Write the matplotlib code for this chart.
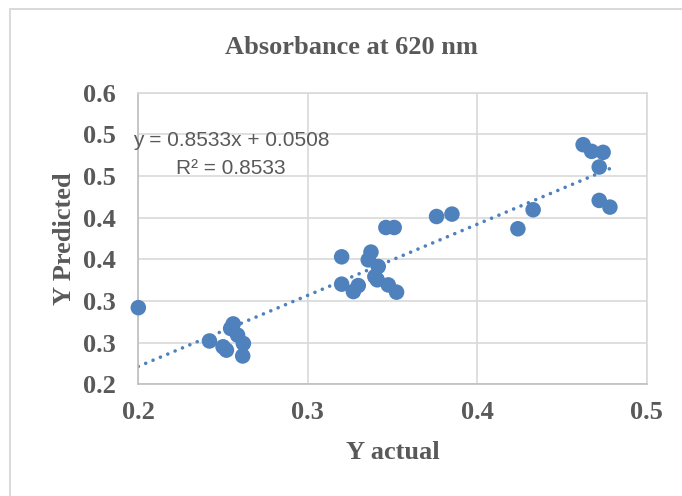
"""Absorbance at 620 nm - predicted vs actual scatter with linear trendline."""

import matplotlib

matplotlib.use("Agg")
import matplotlib.pyplot as plt
from matplotlib.patches import Rectangle

# Values
y_actual = [
    0.200, 0.242, 0.250, 0.252, 0.256, 0.2545, 0.2586, 0.262, 0.2616,
    0.320, 0.3373, 0.3357, 0.3416, 0.3396, 0.341, 0.320, 0.3269, 0.3298,
    0.3475, 0.3524, 0.3461, 0.351, 0.376, 0.3851, 0.424, 0.433,
    0.4625, 0.4675, 0.4743, 0.472, 0.472, 0.4783,
]
y_predicted = [
    0.292, 0.252, 0.245, 0.241, 0.2725, 0.267, 0.259, 0.249, 0.234,
    0.353, 0.3587, 0.3494, 0.3414, 0.3293, 0.3254, 0.3202, 0.3113, 0.3185,
    0.3193, 0.3106, 0.3882, 0.3882, 0.4014, 0.4043, 0.3867, 0.4095,
    0.4876, 0.4796, 0.4784, 0.4608, 0.4207, 0.4127,
]

# Trendline as printed on the chart
slope = 0.8533
intercept = 0.0508
r_squared = 0.8533

x_ticks = [0.2, 0.3, 0.4, 0.5]
x_tick_labels = ["0.2", "0.3", "0.4", "0.5"]
y_ticks = [0.2, 0.25, 0.3, 0.35, 0.4, 0.45, 0.5, 0.55]
# Excel rounds to one decimal, so neighbouring ticks repeat
y_tick_labels = ["0.2", "0.3", "0.3", "0.4", "0.4", "0.5", "0.5", "0.6"]

BLUE = "#4F81BD"
GRID = "#D9D9D9"
AXIS = "#BFBFBF"
TEXT = "#595959"
SERIF = "Liberation Serif"

fig = plt.figure(figsize=(6.82, 4.96), dpi=100)
ax = fig.add_axes([0.2028, 0.2252, 0.7454, 0.5879])

# Light border of the Excel chart area
fig.add_artist(
    Rectangle(
        (10 / 682, -0.1), 1.2, 1.1 - 8.5 / 496,
        transform=fig.transFigure, fill=False, edgecolor=GRID, linewidth=1.4,
    )
)

ax.scatter(
    y_actual, y_predicted, s=125, color=BLUE, edgecolors="none",
    zorder=3, clip_on=False,
)

x_min, x_max = min(y_actual), max(y_actual)
ax.plot(
    [x_min, x_max],
    [slope * x_min + intercept, slope * x_max + intercept],
    color=BLUE, linewidth=2.6, linestyle=(0, (0.01, 2.2)),
    dash_capstyle="round", zorder=2,
)

ax.set_xlim(0.2, 0.5)
ax.set_ylim(0.2, 0.55)
ax.set_xticks(x_ticks)
ax.set_xticklabels(x_tick_labels)
ax.set_yticks(y_ticks)
ax.set_yticklabels(y_tick_labels)
ax.tick_params(axis="x", length=0, pad=12)
ax.tick_params(axis="y", length=0, pad=16)
for label in ax.get_xticklabels() + ax.get_yticklabels():
    label.set_fontfamily(SERIF)
    label.set_fontweight("bold")
    label.set_fontsize(19)
    label.set_color(TEXT)

ax.grid(True, color=GRID, linewidth=1.2)
ax.set_axisbelow(True)
for name, spine in ax.spines.items():
    spine.set_color(AXIS if name in ("left", "bottom") else GRID)
    spine.set_linewidth(1.2)

ax.set_xlabel("Y actual", fontfamily=SERIF, fontweight="bold", fontsize=19, color=TEXT)
ax.xaxis.set_label_coords(0.5, -0.194)
ax.set_ylabel("Y Predicted", fontfamily=SERIF, fontweight="bold", fontsize=19, color=TEXT)
ax.yaxis.set_label_coords(-0.123, 0.5)

fig.text(
    351 / 682, 1 - 54 / 496, "Absorbance at 620 nm",
    ha="center", va="baseline", fontfamily=SERIF, fontweight="bold",
    fontsize=19, color=TEXT,
)

# Trendline equation, placed where Excel put it
ax.text(
    0.2547, 0.4924, f"y = {slope}x + {intercept}",
    ha="center", va="center", fontfamily="Liberation Sans", fontsize=15, color=TEXT,
)
ax.text(
    0.2547, 0.4588, f"R² = {r_squared}",
    ha="center", va="center", fontfamily="Liberation Sans", fontsize=15, color=TEXT,
)

fig.savefig("out.png", dpi=100)
plt.close(fig)
